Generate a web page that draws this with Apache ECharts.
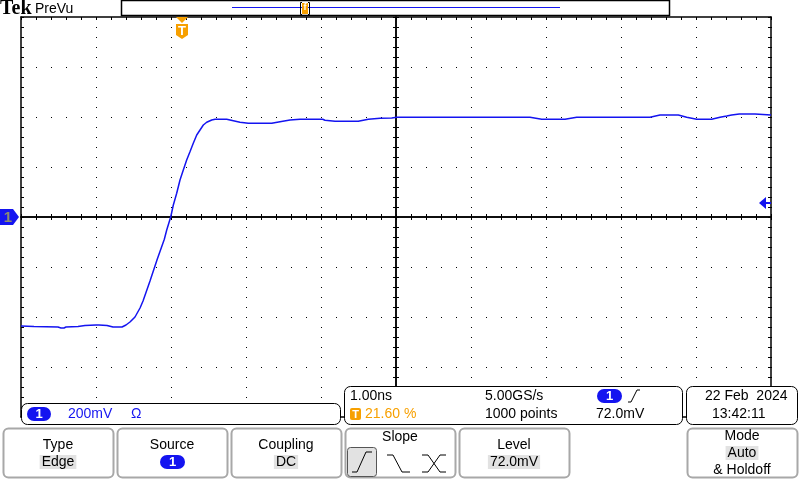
<!DOCTYPE html>
<html>
<head>
<meta charset="utf-8">
<script src="https://cdn.jsdelivr.net/npm/echarts@6/dist/echarts.min.js"></script>
<style>html,body{margin:0;padding:0;background:#fff}#c{width:800px;height:480px}</style>
</head>
<body>
<div id="c"></div>
<script>
// Time relative to screen centre (ns), 1.00 ns/div
var timeNs = [-5.00,-4.827,-4.507,-4.467,-4.427,-4.40,-4.24,-4.147,-4.00,-3.987,-3.96,-3.853,-3.773,-3.653,-3.60,-3.547,-3.48,-3.413,-3.373,-3.28,-3.187,-3.089,-3.057,-3.004,-2.969,-2.924,-2.88,-2.836,-2.791,-2.747,-2.703,-2.657,-2.613,-2.569,-2.524,-2.457,-2.413,-2.257,-2.169,-2.08,-1.969,-1.657,-1.547,-1.413,-1.28,-0.977,-0.947,-0.813,-0.503,-0.48,-0.369,-0.213,-0.057,0.009,1.787,1.809,1.943,2.253,2.276,2.409,3.387,3.409,3.52,3.764,3.787,3.876,3.943,4.009,4.209,4.32,4.409,4.476,4.577,4.787,4.809,5.00];
// Channel 1 voltage (mV), 200 mV/div
var voltsMv = [-436,-438,-440,-444,-444,-440,-438,-434,-432,-428,-432,-434,-440,-440,-432,-420,-400,-364,-336,-256,-172,-89,-52,0,48,95,148,188,228,261,295,328,348,368,379,388,391,391,385,379,375,375,381,388,391,391,387,383,383,387,391,395,396,399,399,395,391,391,395,399,399,404,408,408,404,399,395,391,391,399,404,408,412,412,408,408];
var xRange = [-5, 5];
var yRange = [-800, 800];

var BLUE = '#1414f0';
var ORANGE = '#f7a000';
var FONT = '"Liberation Sans", Arial, sans-serif';

var pts = timeNs.map(function (t, i) { return [t, voltsMv[i]]; });

function xAx(pos, onZero, split) {
  return {
    type: 'value', min: xRange[0], max: xRange[1], interval: 1, position: pos,
    axisLine: { show: true, onZero: onZero, lineStyle: { color: '#000', width: 1.5 } },
    axisTick: { show: true, inside: true, length: 3, lineStyle: { color: '#000' } },
    minorTick: { show: true, splitNumber: 5, length: 3, lineStyle: { color: '#000' } },
    axisLabel: { show: false },
    splitLine: { show: split, lineStyle: { color: '#000', width: 1, type: [1, 9] } }
  };
}
function yAx(pos, onZero, split) {
  return {
    type: 'value', min: yRange[0], max: yRange[1], interval: 200, position: pos,
    axisLine: { show: true, onZero: onZero, lineStyle: { color: '#000', width: 1.5 } },
    axisTick: { show: true, inside: true, length: 3, lineStyle: { color: '#000' } },
    minorTick: { show: true, splitNumber: 5, length: 3, lineStyle: { color: '#000' } },
    axisLabel: { show: false },
    splitLine: { show: split, lineStyle: { color: '#000', width: 1, type: [1, 14] } }
  };
}

function txt(x, y, s, o) {
  o = o || {};
  return {
    type: 'text', z: 110, x: x, y: y,
    style: {
      text: s, fill: o.fill || '#000', font: (o.weight || 'normal') + ' ' + (o.size || 14) + 'px ' + (o.family || FONT),
      textAlign: o.align || 'left', textVerticalAlign: 'middle', verticalAlign: 'middle',
      backgroundColor: o.bg, padding: o.bg ? [0, 2, 0, 2] : 0
    }
  };
}
function rrect(x, y, w, h, r, stroke, lw, fill) {
  return { type: 'rect', z: 100, shape: { x: x, y: y, width: w, height: h, r: r },
    style: { stroke: stroke, lineWidth: lw, fill: fill } };
}
function pill(x, y, w, h) {
  return [
    { type: 'rect', z: 105, shape: { x: x, y: y, width: w, height: h, r: h / 2 }, style: { fill: BLUE } },
    txt(x + w / 2, y + h / 2 + 0.5, '1', { fill: '#fff', weight: 'bold', size: 13, align: 'center' })
  ];
}
function poly(points, stroke, lw) {
  return { type: 'polyline', z: 110, shape: { points: points }, style: { stroke: stroke, lineWidth: lw, fill: null } };
}

var g = [];
// header
g.push(txt(0, 9, 'Tek', { weight: 'bold', size: 20, family: '"Liberation Serif", serif' }));
g.push(txt(35, 9, 'PreVu', { size: 14 }));
g.push(rrect(121.5, 0.5, 548, 15, 0, '#000', 1.5, '#fff'));
g.push({ type: 'line', z: 105, shape: { x1: 232, y1: 7.5, x2: 560, y2: 7.5 }, style: { stroke: BLUE, lineWidth: 1 } });
g.push({ type: 'rect', z: 106, shape: { x: 302, y: 3, width: 6, height: 11 }, style: { fill: ORANGE } });
g.push(poly([[302, 2.5], [300.5, 2.5], [300.5, 14.5], [302, 14.5]], '#000', 1));
g.push(poly([[308, 2.5], [309.5, 2.5], [309.5, 14.5], [308, 14.5]], '#000', 1));
g.push(txt(305, 8, 'f', { fill: '#fff', size: 9, align: 'center', weight: 'bold' }));
// trigger position marker
g.push({ type: 'polygon', z: 110, shape: { points: [[176, 17], [188, 17], [182, 23]] }, style: { fill: ORANGE } });
g.push({ type: 'polygon', z: 110, shape: { points: [[176, 24], [188, 24], [188, 35], [182, 39], [176, 35]] }, style: { fill: ORANGE } });
g.push(txt(182, 31, 'T', { fill: '#fff', weight: 'bold', size: 13, align: 'center' }));
// trigger level arrow
g.push({ type: 'polygon', z: 110, shape: { points: [[759, 203], [766, 197], [766, 209]] }, style: { fill: BLUE } });
g.push({ type: 'line', z: 110, shape: { x1: 765, y1: 203, x2: 771, y2: 203 }, style: { stroke: BLUE, lineWidth: 2 } });
// channel ground marker
g.push({ type: 'polygon', z: 110, shape: { points: [[0, 209], [13, 209], [19, 217], [13, 225], [0, 225]] }, style: { fill: BLUE } });
g.push(txt(8, 217.5, '1', { fill: '#8c8c70', weight: 'bold', size: 15, align: 'center' }));

// channel box
g.push(rrect(21.5, 403.5, 319, 21, 6, '#000', 1, '#fff'));
g = g.concat(pill(27, 407, 24, 14));
g.push(txt(68, 414, '200mV', { fill: BLUE }));
g.push(txt(131, 414, 'Ω', { fill: BLUE }));
// timebase box
g.push(rrect(344.5, 386.5, 338, 38, 6, '#000', 1, '#fff'));
g.push(txt(350, 396, '1.00ns'));
g.push({ type: 'rect', z: 105, shape: { x: 350, y: 408, width: 11, height: 12, r: 2 }, style: { fill: ORANGE } });
g.push(txt(355.5, 414.5, 'T', { fill: '#fff', weight: 'bold', size: 11, align: 'center' }));
g.push(txt(365, 414, '21.60 %', { fill: ORANGE }));
g.push(txt(485, 396, '5.00GS/s'));
g.push(txt(485, 414, '1000 points'));
g = g.concat(pill(597, 389, 25, 14));
g.push(poly([[628, 402], [631, 402], [637, 390], [640, 390]], '#000', 1));
g.push(txt(596, 414, '72.0mV'));
// date box
g.push(rrect(686.5, 386.5, 111, 38, 6, '#000', 1, '#fff'));
g.push(txt(705, 396, '22 Feb  2024'));
g.push(txt(712, 414, '13:42:11'));

// menu buttons
var btns = [[3, 111], [117, 111], [231, 111], [345, 111], [459, 111], [687, 111]];
btns.forEach(function (b) { g.push(rrect(b[0] + 0.5, 428.5, b[1] - 1, 49, 5, '#a8a8a8', 2, '#fff')); });
g.push(txt(58, 445, 'Type', { align: 'center' }));
g.push(txt(58, 462, 'Edge', { align: 'center', bg: '#e2e2e2' }));
g.push(txt(172, 445, 'Source', { align: 'center' }));
g = g.concat(pill(160, 455, 25, 14));
g.push(txt(286, 445, 'Coupling', { align: 'center' }));
g.push(txt(286, 462, 'DC', { align: 'center', bg: '#e2e2e2' }));
g.push(txt(400, 437, 'Slope', { align: 'center' }));
g.push(rrect(347.5, 447.5, 29, 29, 3, '#555', 1, '#e2e2e2'));
g.push(poly([[352, 472], [357, 472], [366, 452], [372, 452]], '#000', 1));
g.push(poly([[387, 455], [393, 455], [402, 472], [410, 472]], '#000', 1));
g.push(poly([[422, 455], [428, 455], [440, 472], [446, 472]], '#000', 1));
g.push(poly([[422, 472], [428, 472], [440, 455], [446, 455]], '#000', 1));
g.push(txt(514, 445, 'Level', { align: 'center' }));
g.push(txt(514, 462, '72.0mV', { align: 'center', bg: '#e2e2e2' }));
g.push(txt(742, 436, 'Mode', { align: 'center' }));
g.push(txt(742, 453, 'Auto', { align: 'center', bg: '#e2e2e2' }));
g.push(txt(742, 470, '& Holdoff', { align: 'center' }));

var chart = echarts.init(document.getElementById('c'), null, { renderer: 'canvas' });
chart.setOption({
  animation: false,
  backgroundColor: '#fff',
  grid: { left: 21, top: 17, width: 750, height: 400, show: false },
  xAxis: [xAx('bottom', false, true), xAx('top', false, false), xAx('bottom', true, false), xAx('top', true, false)],
  yAxis: [yAx('left', false, true), yAx('right', false, false), yAx('left', true, false), yAx('right', true, false)],
  series: [{
    type: 'line', xAxisIndex: 0, yAxisIndex: 0, data: pts, showSymbol: false, symbol: 'none',
    lineStyle: { color: BLUE, width: 1.5 }, z: 50, silent: true
  }],
  graphic: g
});
</script>
</body>
</html>
